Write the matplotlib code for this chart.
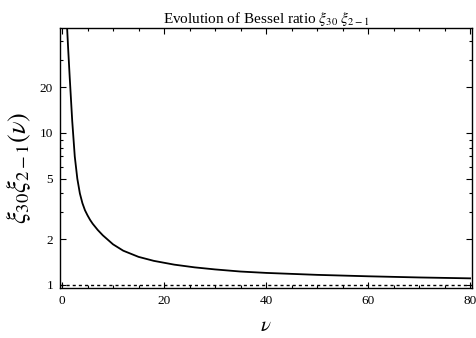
import numpy as np
import matplotlib.pyplot as plt
from matplotlib.ticker import FixedLocator, NullFormatter, MultipleLocator

plt.rcParams['font.family'] = ['Liberation Serif', 'DejaVu Serif']
plt.rcParams['mathtext.fontset'] = 'stix'

# values
nu = [1.0, 1.2, 1.5, 2.0, 2.5, 3.0, 3.5, 4.0, 4.5, 5.0, 5.5, 6.0, 7.0, 8.0,
      10, 12, 15, 18, 22, 26, 30, 35, 40, 50, 60, 70, 80]
ratio = [49, 36, 23.5, 12, 7.0, 5.0, 4.0, 3.45, 3.1, 2.87, 2.68, 2.53, 2.3,
         2.12, 1.85, 1.68, 1.53, 1.44, 1.36, 1.305, 1.265, 1.225, 1.2,
         1.165, 1.14, 1.12, 1.105]
limit = 1.0

y_major = [1, 2, 5, 10, 20]
y_minor = [3, 4, 6, 7, 8, 9, 30, 40]

fig = plt.figure(figsize=(4.76, 3.38), dpi=100)
ax = fig.add_axes([0.126, 0.148, 0.866, 0.769])

ax.plot(nu, ratio, color='black', lw=1.3)
ax.axhline(limit, color='black', lw=1.0, ls=(0, (2.2, 2.2)))

ax.set_yscale('log')
ax.set_xlim(-0.4, 80.4)
ax.set_ylim(0.955, 49)

ax.xaxis.set_major_locator(MultipleLocator(20))
ax.xaxis.set_minor_locator(MultipleLocator(5))
ax.yaxis.set_major_locator(FixedLocator(y_major))
ax.yaxis.set_minor_locator(FixedLocator(y_minor))
ax.set_yticklabels([str(v) for v in y_major])
ax.yaxis.set_minor_formatter(NullFormatter())

ax.tick_params(which='both', direction='in', top=True, right=True,
               labelsize=9.5, width=0.8)
ax.tick_params(which='major', length=4, pad=5)
ax.tick_params(which='minor', length=2)
for s in ax.spines.values():
    s.set_linewidth(1.0)

ax.set_xlabel(r'$\nu$', fontsize=15, labelpad=7)
ax.set_ylabel(r'$\xi_{30}\xi_{2-1}(\nu)$', fontsize=19)
ax.yaxis.set_label_coords(-0.065, 0.46)
ax.set_title(r'Evolution of Bessel ratio $\xi_{30}\ \xi_{2-1}$', fontsize=11, pad=1)

plt.savefig('out.png', dpi=100)
